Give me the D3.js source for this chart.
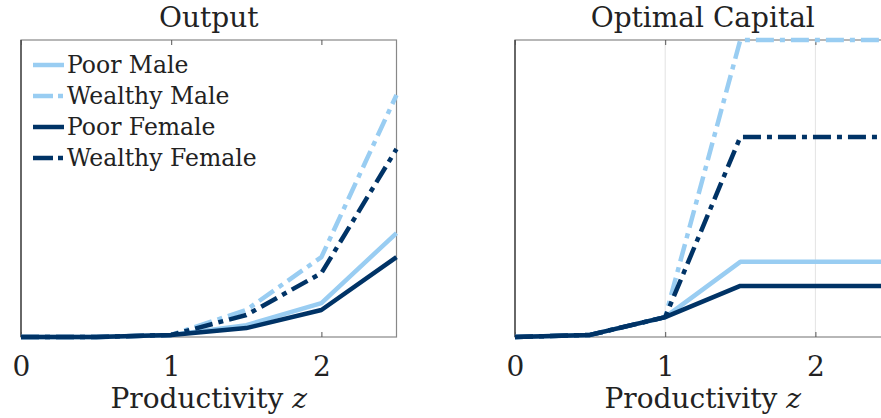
<!DOCTYPE html>
<html>
<head>
<meta charset="utf-8">
<script src="https://cdn.jsdelivr.net/npm/d3@7"></script>
<style>
  body { margin: 0; background: #fff; }
  svg { display: block; }
  text { font-family: "DejaVu Serif", "Liberation Serif", serif; fill: #222; }
</style>
</head>
<body>
<svg id="chart" width="881" height="418"></svg>
<script>
// productivity grid
const zValues = [0, 0.5, 1, 1.5, 2, 2.5];
const xTicks = [0, 1, 2];

const seriesNames = ["Poor Male", "Wealthy Male", "Poor Female", "Wealthy Female"];
const seriesColors = ["#99cdf2", "#99cdf2", "#003366", "#003366"];
const seriesDashed = [false, true, false, true];

// panel 1: output
const outputPoorMale = [0, 0, 0.007, 0.04, 0.114, 0.350];
const outputWealthyMale = [0, 0, 0.007, 0.091, 0.269, 0.815];
const outputPoorFemale = [0, 0, 0.007, 0.03, 0.091, 0.269];
const outputWealthyFemale = [0, 0, 0.007, 0.074, 0.215, 0.633];

// panel 2: optimal capital
const capitalPoorMale = [0, 0.007, 0.067, 0.253, 0.253, 0.253];
const capitalWealthyMale = [0, 0.007, 0.067, 1.0, 1.0, 1.0];
const capitalPoorFemale = [0, 0.007, 0.067, 0.172, 0.172, 0.172];
const capitalWealthyFemale = [0, 0.007, 0.067, 0.673, 0.673, 0.673];

const panels = [
    { title: "Output", left: 21, series: [outputPoorMale, outputWealthyMale, outputPoorFemale, outputWealthyFemale], grid: false, legend: true },
    { title: "Optimal Capital", left: 515, series: [capitalPoorMale, capitalWealthyMale, capitalPoorFemale, capitalWealthyFemale], grid: true, legend: false }
];

const plotW = 375.5, plotTop = 40, plotBottom = 337;
const dash = "18,6,5,6";
const lineW = 4.5;

let svg = d3.select('#chart');

panels.forEach(p => {
    let x = d3.scaleLinear().domain([0, 2.5]).range([p.left, p.left + plotW]);
    let y = d3.scaleLinear().domain([0, 1]).range([plotBottom, plotTop]);
    let g = svg.append('g');

    if (p.grid) {
        g.selectAll('.grid').data(xTicks.filter(t => t > 0)).enter()
            .append('line')
            .attr('x1', d => x(d)).attr('x2', d => x(d))
            .attr('y1', plotTop).attr('y2', plotBottom)
            .attr('stroke', '#e3e3e3').attr('stroke-width', 1);
    }

    // box
    g.append('rect')
        .attr('x', p.left).attr('y', plotTop)
        .attr('width', plotW).attr('height', plotBottom - plotTop)
        .attr('fill', 'none').attr('stroke', '#888').attr('stroke-width', 1.2);
    g.append('line')
        .attr('x1', p.left).attr('x2', p.left).attr('y1', plotTop).attr('y2', plotBottom)
        .attr('stroke', '#333').attr('stroke-width', 1.2);

    // inward ticks
    let xAxis = d3.axisBottom(x).tickValues(xTicks).tickSize(-5).tickFormat(d3.format('d')).tickPadding(19);
    let ax = g.append('g').attr('transform', `translate(0,${plotBottom})`).call(xAxis);
    ax.select('.domain').remove();
    ax.selectAll('.tick line').attr('stroke', '#555');
    ax.selectAll('.tick text')
        .attr('font-family', '"DejaVu Serif", serif')
        .attr('font-size', 28).attr('fill', '#222');
    let axTop = g.append('g').attr('transform', `translate(0,${plotTop})`)
        .call(d3.axisTop(x).tickValues(xTicks).tickSize(-5).tickFormat(''));
    axTop.select('.domain').remove();
    axTop.selectAll('.tick line').attr('stroke', '#555');

    // series lines
    let line = d3.line().x((d, i) => x(zValues[i])).y(d => y(d));
    p.series.forEach((vals, i) => {
        g.append('path')
            .attr('d', line(vals))
            .attr('fill', 'none')
            .attr('stroke', seriesColors[i])
            .attr('stroke-width', lineW)
            .attr('stroke-linejoin', 'round')
            .attr('stroke-dasharray', seriesDashed[i] ? dash : null);
    });

    // title and x label
    g.append('text')
        .attr('x', p.left + plotW / 2).attr('y', 27)
        .attr('text-anchor', 'middle').attr('font-size', 28)
        .text(p.title);
    let lab = g.append('text')
        .attr('x', p.left + plotW / 2).attr('y', 408)
        .attr('text-anchor', 'middle').attr('font-size', 28);
    lab.append('tspan').text('Productivity ');
    lab.append('tspan').attr('font-style', 'italic').text('z');

    if (p.legend) {
        let lg = g.append('g');
        seriesNames.forEach((name, i) => {
            let yy = 65 + i * 31;
            lg.append('line')
                .attr('x1', 33).attr('x2', 64).attr('y1', yy).attr('y2', yy)
                .attr('stroke', seriesColors[i]).attr('stroke-width', lineW)
                .attr('stroke-dasharray', seriesDashed[i] ? "20,5,5,5" : null);
            lg.append('text')
                .attr('x', 67).attr('y', yy + 8)
                .attr('font-size', 23.5)
                .text(name);
        });
    }
});
</script>
</body>
</html>
